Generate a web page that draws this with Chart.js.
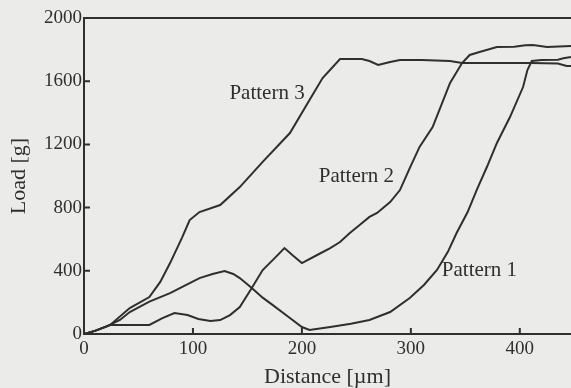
<!DOCTYPE html>
<html>
<head>
<meta charset="utf-8">
<script src="https://cdn.jsdelivr.net/npm/chart.js@4.4.1/dist/chart.umd.min.js"></script>
<style>
  html, body { margin: 0; padding: 0; background: #ebebea; }
  #wrap { width: 571px; height: 388px; position: relative; }
</style>
</head>
<body>
<div id="wrap"><canvas id="loadChart"></canvas></div>
<script>
// values (distance in um, load in g)
const xTicks = [0, 100, 200, 300, 400];
const yTicks = [0, 400, 800, 1200, 1600, 2000];

const p1X = [0, 10, 20, 33, 42, 60, 79, 88, 106, 118, 129, 137, 143, 154, 164, 173, 189, 200, 207, 226, 245, 262, 281, 299, 312, 324, 334, 342, 352, 361, 370, 379, 391, 403, 407, 411, 420, 435, 440, 447];
const p1Y = [0, 20, 45, 89, 139, 205, 259, 291, 354, 380, 399, 380, 354, 291, 230, 184, 101, 44, 25, 44, 65, 89, 139, 228, 310, 405, 520, 639, 770, 920, 1060, 1209, 1373, 1563, 1671, 1728, 1734, 1736, 1745, 1753];

const p2X = [0, 10, 24, 40, 60, 72, 83, 95, 105, 116, 125, 134, 143, 154, 164, 175, 184, 192, 200, 214, 226, 235, 244, 253, 262, 269, 281, 290, 299, 308, 320, 336, 347, 354, 363, 379, 395, 405, 412, 425, 447];
const p2Y = [0, 20, 57, 57, 57, 100, 133, 120, 95, 82, 88, 120, 171, 291, 405, 480, 544, 495, 449, 500, 544, 582, 639, 690, 741, 766, 835, 911, 1050, 1184, 1310, 1589, 1715, 1766, 1785, 1816, 1818, 1828, 1829, 1816, 1823];

const p3X = [0, 10, 24, 42, 60, 70, 79, 90, 97, 106, 125, 143, 164, 189, 207, 219, 235, 255, 262, 270, 281, 290, 310, 336, 347, 380, 410, 435, 443, 447];
const p3Y = [0, 20, 57, 164, 234, 330, 449, 610, 721, 772, 816, 930, 1089, 1272, 1481, 1620, 1740, 1740, 1728, 1703, 1722, 1734, 1734, 1728, 1715, 1715, 1715, 1712, 1696, 1696];

const seriesNames = ['Pattern 1', 'Pattern 2', 'Pattern 3'];
// where each curve's name sits, in data units
const nameX = [363, 250, 168];
const nameY = [405, 1000, 1525];

const ink = '#2f2f2f';
const serif = '"Liberation Serif", "Times New Roman", serif';

const toPoints = (xs, ys) => xs.map((x, i) => ({ x: x, y: ys[i] }));

// top frame line, inward tick marks and the curve names
const frameTicks = {
    id: 'frameTicks',
    afterDraw(chart) {
        const { ctx, chartArea: a, scales: { x, y } } = chart;
        ctx.save();
        ctx.strokeStyle = ink;
        ctx.lineWidth = 2;
        ctx.beginPath();
        ctx.moveTo(a.left - 1, a.top);
        ctx.lineTo(chart.width, a.top);
        xTicks.forEach(v => {
            const px = x.getPixelForValue(v);
            ctx.moveTo(px, a.bottom);
            ctx.lineTo(px, a.bottom - 6);
        });
        yTicks.forEach(v => {
            const py = y.getPixelForValue(v);
            ctx.moveTo(a.left, py);
            ctx.lineTo(a.left + 6, py);
        });
        ctx.stroke();

        ctx.fillStyle = ink;
        ctx.font = '21px ' + serif;
        ctx.textAlign = 'center';
        ctx.textBaseline = 'middle';
        seriesNames.forEach((name, i) => {
            ctx.fillText(name, x.getPixelForValue(nameX[i]), y.getPixelForValue(nameY[i]));
        });
        ctx.restore();
    }
};

const lineStyle = {
    borderColor: ink,
    borderWidth: 2,
    pointRadius: 0,
    tension: 0,
    fill: false
};

new Chart(document.getElementById('loadChart'), {
    type: 'line',
    data: {
        datasets: [
            Object.assign({ label: seriesNames[0], data: toPoints(p1X, p1Y) }, lineStyle),
            Object.assign({ label: seriesNames[1], data: toPoints(p2X, p2Y) }, lineStyle),
            Object.assign({ label: seriesNames[2], data: toPoints(p3X, p3Y) }, lineStyle)
        ]
    },
    options: {
        responsive: true,
        maintainAspectRatio: false,
        animation: false,
        layout: { padding: { top: 18, right: 0, bottom: 0, left: 0 } },
        plugins: { legend: { display: false }, tooltip: { enabled: false } },
        scales: {
            x: {
                type: 'linear',
                min: 0,
                max: 447,
                afterBuildTicks: s => { s.ticks = xTicks.map(v => ({ value: v })); },
                afterFit: s => { s.height = 54; },
                grid: { display: false, drawTicks: false },
                border: { display: true, color: ink, width: 2 },
                ticks: { color: ink, font: { family: serif, size: 19 }, padding: 4, maxRotation: 0, callback: v => String(v) },
                title: { display: true, text: 'Distance [µm]', color: ink, font: { family: serif, size: 22, lineHeight: 1 }, padding: { top: 0, bottom: 0 } }
            },
            y: {
                min: 0,
                max: 2000,
                afterBuildTicks: s => { s.ticks = yTicks.map(v => ({ value: v })); },
                afterFit: s => { s.width = 84; },
                grid: { display: false, drawTicks: false },
                border: { display: true, color: ink, width: 2 },
                ticks: { color: ink, font: { family: serif, size: 19 }, padding: 2, callback: v => String(v) },
                title: { display: true, text: 'Load [g]', color: ink, font: { family: serif, size: 22, lineHeight: 1 }, padding: { top: 8, bottom: 0 } }
            }
        }
    },
    plugins: [frameTicks]
});
</script>
</body>
</html>
